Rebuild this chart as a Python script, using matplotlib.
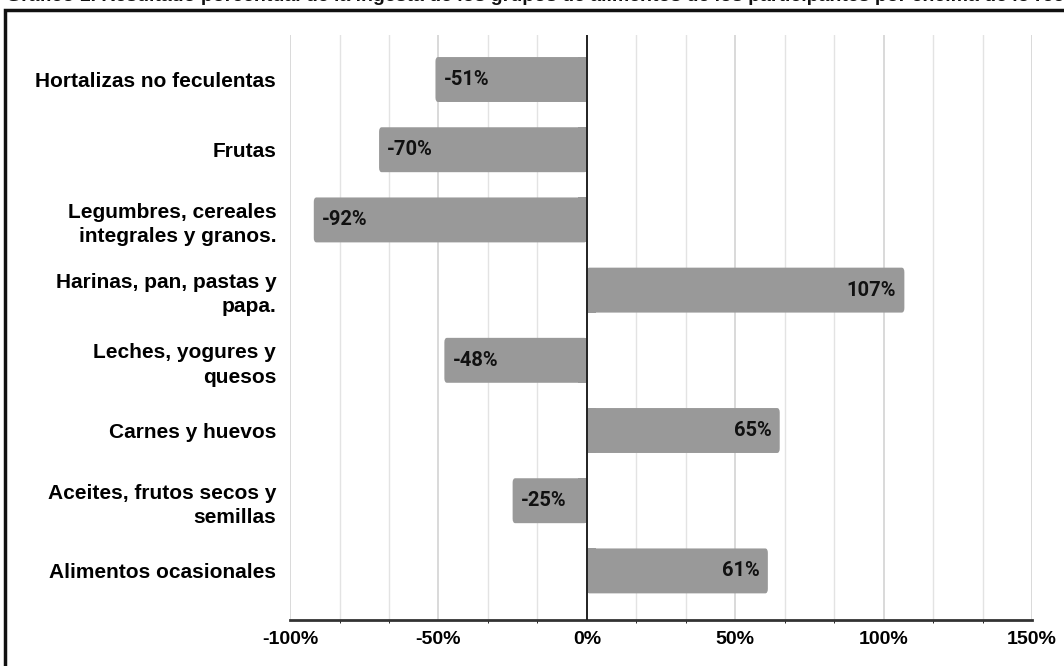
import numpy as np
import matplotlib.pyplot as plt
from matplotlib.patches import Rectangle, FancyBboxPatch
from matplotlib.ticker import MultipleLocator, FuncFormatter

categorias = [
    "Hortalizas no feculentas",
    "Frutas",
    "Legumbres, cereales\nintegrales y granos.",
    "Harinas, pan, pastas y\npapa.",
    "Leches, yogures y\nquesos",
    "Carnes y huevos",
    "Aceites, frutos secos y\nsemillas",
    "Alimentos ocasionales",
]
valores = [-51, -70, -92, 107, -48, 65, -25, 61]
ticks_x = [-100, -50, 0, 50, 100, 150]
titulo = ("Gráfico 1. Resultado porcentual de la ingesta de los grupos de alimentos "
          "de los participantes por encima de lo recomendado")


def plot_barras():
    fig = plt.figure(figsize=(10.64, 6.66), dpi=100)
    ax = fig.add_axes([0.2726, 0.069, 0.6973, 0.878])

    y = np.arange(len(categorias))
    alto = 0.64
    for yi, v in zip(y, valores):
        # barra con esquinas redondeadas solo en el extremo
        x0 = min(0, v)
        ax.add_patch(FancyBboxPatch((x0, yi - alto / 2), abs(v), alto,
                                    boxstyle="round,pad=0,rounding_size=0.9",
                                    mutation_aspect=0.07,
                                    facecolor="#999999", edgecolor="none", zorder=2))
        ax.add_patch(Rectangle((0 if v > 0 else -3, yi - alto / 2), 3, alto,
                               facecolor="#999999", edgecolor="none", zorder=2))
        if v < 0:
            ax.text(v + 2.7, yi, f"{v}%", ha="left", va="center", fontsize=14.5,
                    fontweight="bold", family="Roboto", color="#111111", zorder=3)
        else:
            ax.text(v - 2.7, yi, f"{v}%", ha="right", va="center", fontsize=14.5,
                    fontweight="bold", family="Roboto", color="#111111", zorder=3)

    ax.set_xlim(-100, 150)
    ax.set_ylim(7.70, -0.63)
    ax.set_xticks(ticks_x)
    ax.xaxis.set_major_formatter(FuncFormatter(lambda v, p: f"{v:.0f}%"))
    ax.xaxis.set_minor_locator(MultipleLocator(50 / 3))
    ax.grid(True, axis="x", which="major", color="#cfcfcf", linewidth=1.1, zorder=0)
    ax.grid(True, axis="x", which="minor", color="#e3e3e3", linewidth=1.0, zorder=0)
    ax.set_axisbelow(True)

    ax.set_yticks(y)
    ax.set_yticklabels(categorias, fontsize=15, fontweight="bold",
                       family="Liberation Sans", linespacing=1.35)
    for lab in ax.get_xticklabels():
        lab.set_fontsize(14)
        lab.set_fontweight("bold")
        lab.set_family("Liberation Sans")
    ax.tick_params(axis="both", length=0)
    ax.tick_params(axis="y", pad=10)
    ax.tick_params(axis="x", pad=8)

    for s in ["top", "right", "left"]:
        ax.spines[s].set_visible(False)
    ax.spines["bottom"].set_color("#333333")
    ax.spines["bottom"].set_linewidth(2)
    ax.axvline(0, color="#222222", linewidth=1.4, zorder=4)

    # marco exterior y título (queda recortado arriba)
    fig.patches.append(Rectangle((0.0047, -0.02), 1.05, 1.005, transform=fig.transFigure,
                                 fill=False, edgecolor="#111111", linewidth=2.5))
    fig.text(0.006, 1 - 1 / 666, titulo, ha="left", va="baseline", fontsize=14,
             fontweight="bold", family="Liberation Sans", color="#111111")

    fig.savefig("out.png", dpi=100)


if __name__ == "__main__":
    plot_barras()
